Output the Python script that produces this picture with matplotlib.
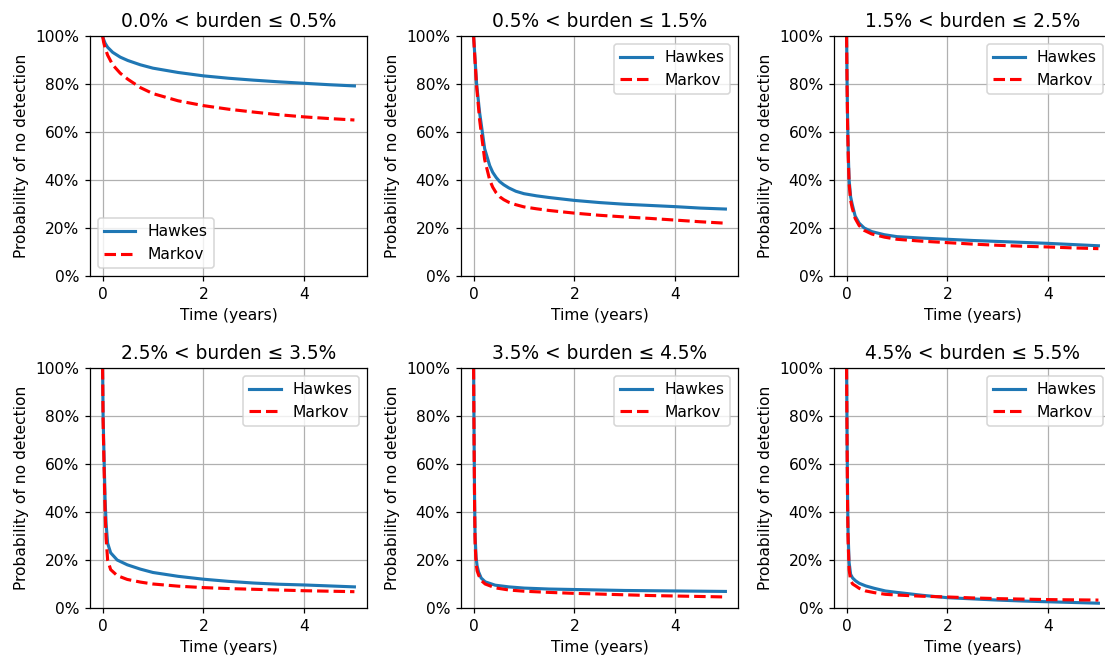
import matplotlib
matplotlib.use("Agg")
import matplotlib.pyplot as plt
from matplotlib.ticker import PercentFormatter

titles = [
    "0.0% < burden ≤ 0.5%",
    "0.5% < burden ≤ 1.5%",
    "1.5% < burden ≤ 2.5%",
    "2.5% < burden ≤ 3.5%",
    "3.5% < burden ≤ 4.5%",
    "4.5% < burden ≤ 5.5%",
]

# time (years) and probability of no detection (%)
t1 = [0, 0.02, 0.05, 0.1, 0.2, 0.35, 0.5, 0.75, 1, 1.5, 2, 2.5, 3, 3.5, 4, 4.5, 5]
hawkes1 = [100, 98.6, 97, 95.3, 93.2, 91.2, 89.8, 88, 86.6, 84.8, 83.4, 82.4, 81.6, 80.9, 80.3, 79.7, 79.2]
markov1 = [100, 97.5, 95, 92, 88, 84.5, 82, 78.5, 76, 73, 71, 69.5, 68.3, 67.2, 66.3, 65.6, 65]

t2 = [0, 0.03, 0.06, 0.12, 0.22, 0.32, 0.38, 0.45, 0.52, 0.6, 0.7, 0.84, 1, 1.25, 1.5, 2, 2.5, 3, 3.5, 4, 4.5, 5]
hawkes2 = [100, 90, 80, 68, 53, 46, 43.2, 41, 39.3, 38, 36.7, 35.3, 34.3, 33.4, 32.7, 31.5, 30.6, 29.9, 29.4, 28.9, 28.3, 27.9]
markov2 = [100, 89, 79, 65, 48.5, 40, 37, 34.6, 33, 31.8, 30.7, 29.7, 28.8, 28, 27.3, 26.2, 25.3, 24.6, 24, 23.3, 22.6, 22]

t3 = [0, 0.01, 0.02, 0.035, 0.05, 0.08, 0.11, 0.17, 0.25, 0.35, 0.5, 0.75, 1, 1.5, 2, 2.5, 3, 3.5, 4, 4.5, 5]
hawkes3 = [100, 80, 65, 50, 40, 33, 30, 25, 22, 20, 18.5, 17.2, 16.4, 15.8, 15.3, 14.8, 14.4, 14, 13.6, 13.1, 12.6]
markov3 = [100, 79, 63, 48, 38.5, 31.5, 28.5, 24, 21, 19, 17.5, 16.2, 15.3, 14.5, 13.9, 13.3, 12.8, 12.4, 12.1, 11.7, 11.4]

t4 = [0, 0.01, 0.03, 0.05, 0.07, 0.1, 0.16, 0.29, 0.49, 0.75, 1, 1.5, 2, 2.5, 3, 3.5, 4, 4.5, 5]
hawkes4 = [100, 80, 62, 45, 35, 27, 23, 20, 18, 16.2, 14.8, 13.2, 12, 11.1, 10.4, 9.9, 9.6, 9.2, 8.8]
markov4 = [100, 78, 58, 40, 29, 20, 16, 13.5, 11.9, 10.8, 10, 9.1, 8.5, 8.1, 7.8, 7.5, 7.2, 7, 6.8]

t5 = [0, 0.005, 0.01, 0.02, 0.03, 0.05, 0.07, 0.1, 0.15, 0.23, 0.43, 0.7, 1, 1.5, 2, 2.5, 3, 3.5, 4, 4.5, 5]
hawkes5 = [100, 85, 70, 45, 30, 21, 17.5, 15, 12.5, 10.9, 9.5, 8.8, 8.3, 7.9, 7.7, 7.5, 7.3, 7.2, 7.1, 7, 6.9]
markov5 = [100, 84, 68, 42, 27, 18.5, 15.5, 13.7, 11.5, 10, 8.4, 7.5, 7, 6.5, 6.1, 5.8, 5.5, 5.2, 5, 4.8, 4.6]

t6 = [0, 0.005, 0.01, 0.02, 0.03, 0.05, 0.08, 0.12, 0.18, 0.25, 0.38, 0.55, 0.77, 1, 1.5, 2, 2.5, 3, 3.5, 4, 4.5, 5]
hawkes6 = [100, 85, 70, 45, 31, 19, 14, 12.5, 11.3, 10.3, 9.2, 8.2, 7.1, 6.5, 5.3, 4.3, 3.8, 3.3, 2.9, 2.6, 2.3, 2.0]
markov6 = [100, 84, 68, 42, 28, 16, 11.5, 10, 9.2, 8.2, 7.1, 6.4, 5.7, 5.4, 4.9, 4.6, 4.2, 3.9, 3.7, 3.5, 3.4, 3.3]

times = [t1, t2, t3, t4, t5, t6]
hawkes = [hawkes1, hawkes2, hawkes3, hawkes4, hawkes5, hawkes6]
markov = [markov1, markov2, markov3, markov4, markov5, markov6]

W, H = 1105, 656
fig, axes = plt.subplots(2, 3, figsize=(W / 112, H / 112), dpi=112)

# axes boxes in pixels (left, top) -- the right column runs off the edge like the original
lefts = [90, 461, 834]
tops = [36, 368]
aw, ah = 277, 240

for i, ax in enumerate(axes.flat):
    r, c = divmod(i, 3)
    ax.set_position([lefts[c] / W, 1 - (tops[r] + ah) / H, aw / W, ah / H])
    ax.plot(times[i], hawkes[i], color="tab:blue", linewidth=2, label="Hawkes")
    ax.plot(times[i], markov[i], color="red", linestyle="--", linewidth=2, label="Markov")
    ax.set_title(titles[i], fontsize=12)
    ax.set_xlabel("Time (years)")
    ax.set_ylabel("Probability of no detection")
    ax.set_ylim(0, 100)
    ax.set_xticks([0, 2, 4])
    ax.yaxis.set_major_formatter(PercentFormatter(100, decimals=0))
    ax.grid(True)
    ax.legend(loc="lower left" if i == 0 else "upper right")

fig.savefig("out.png", dpi=112)
